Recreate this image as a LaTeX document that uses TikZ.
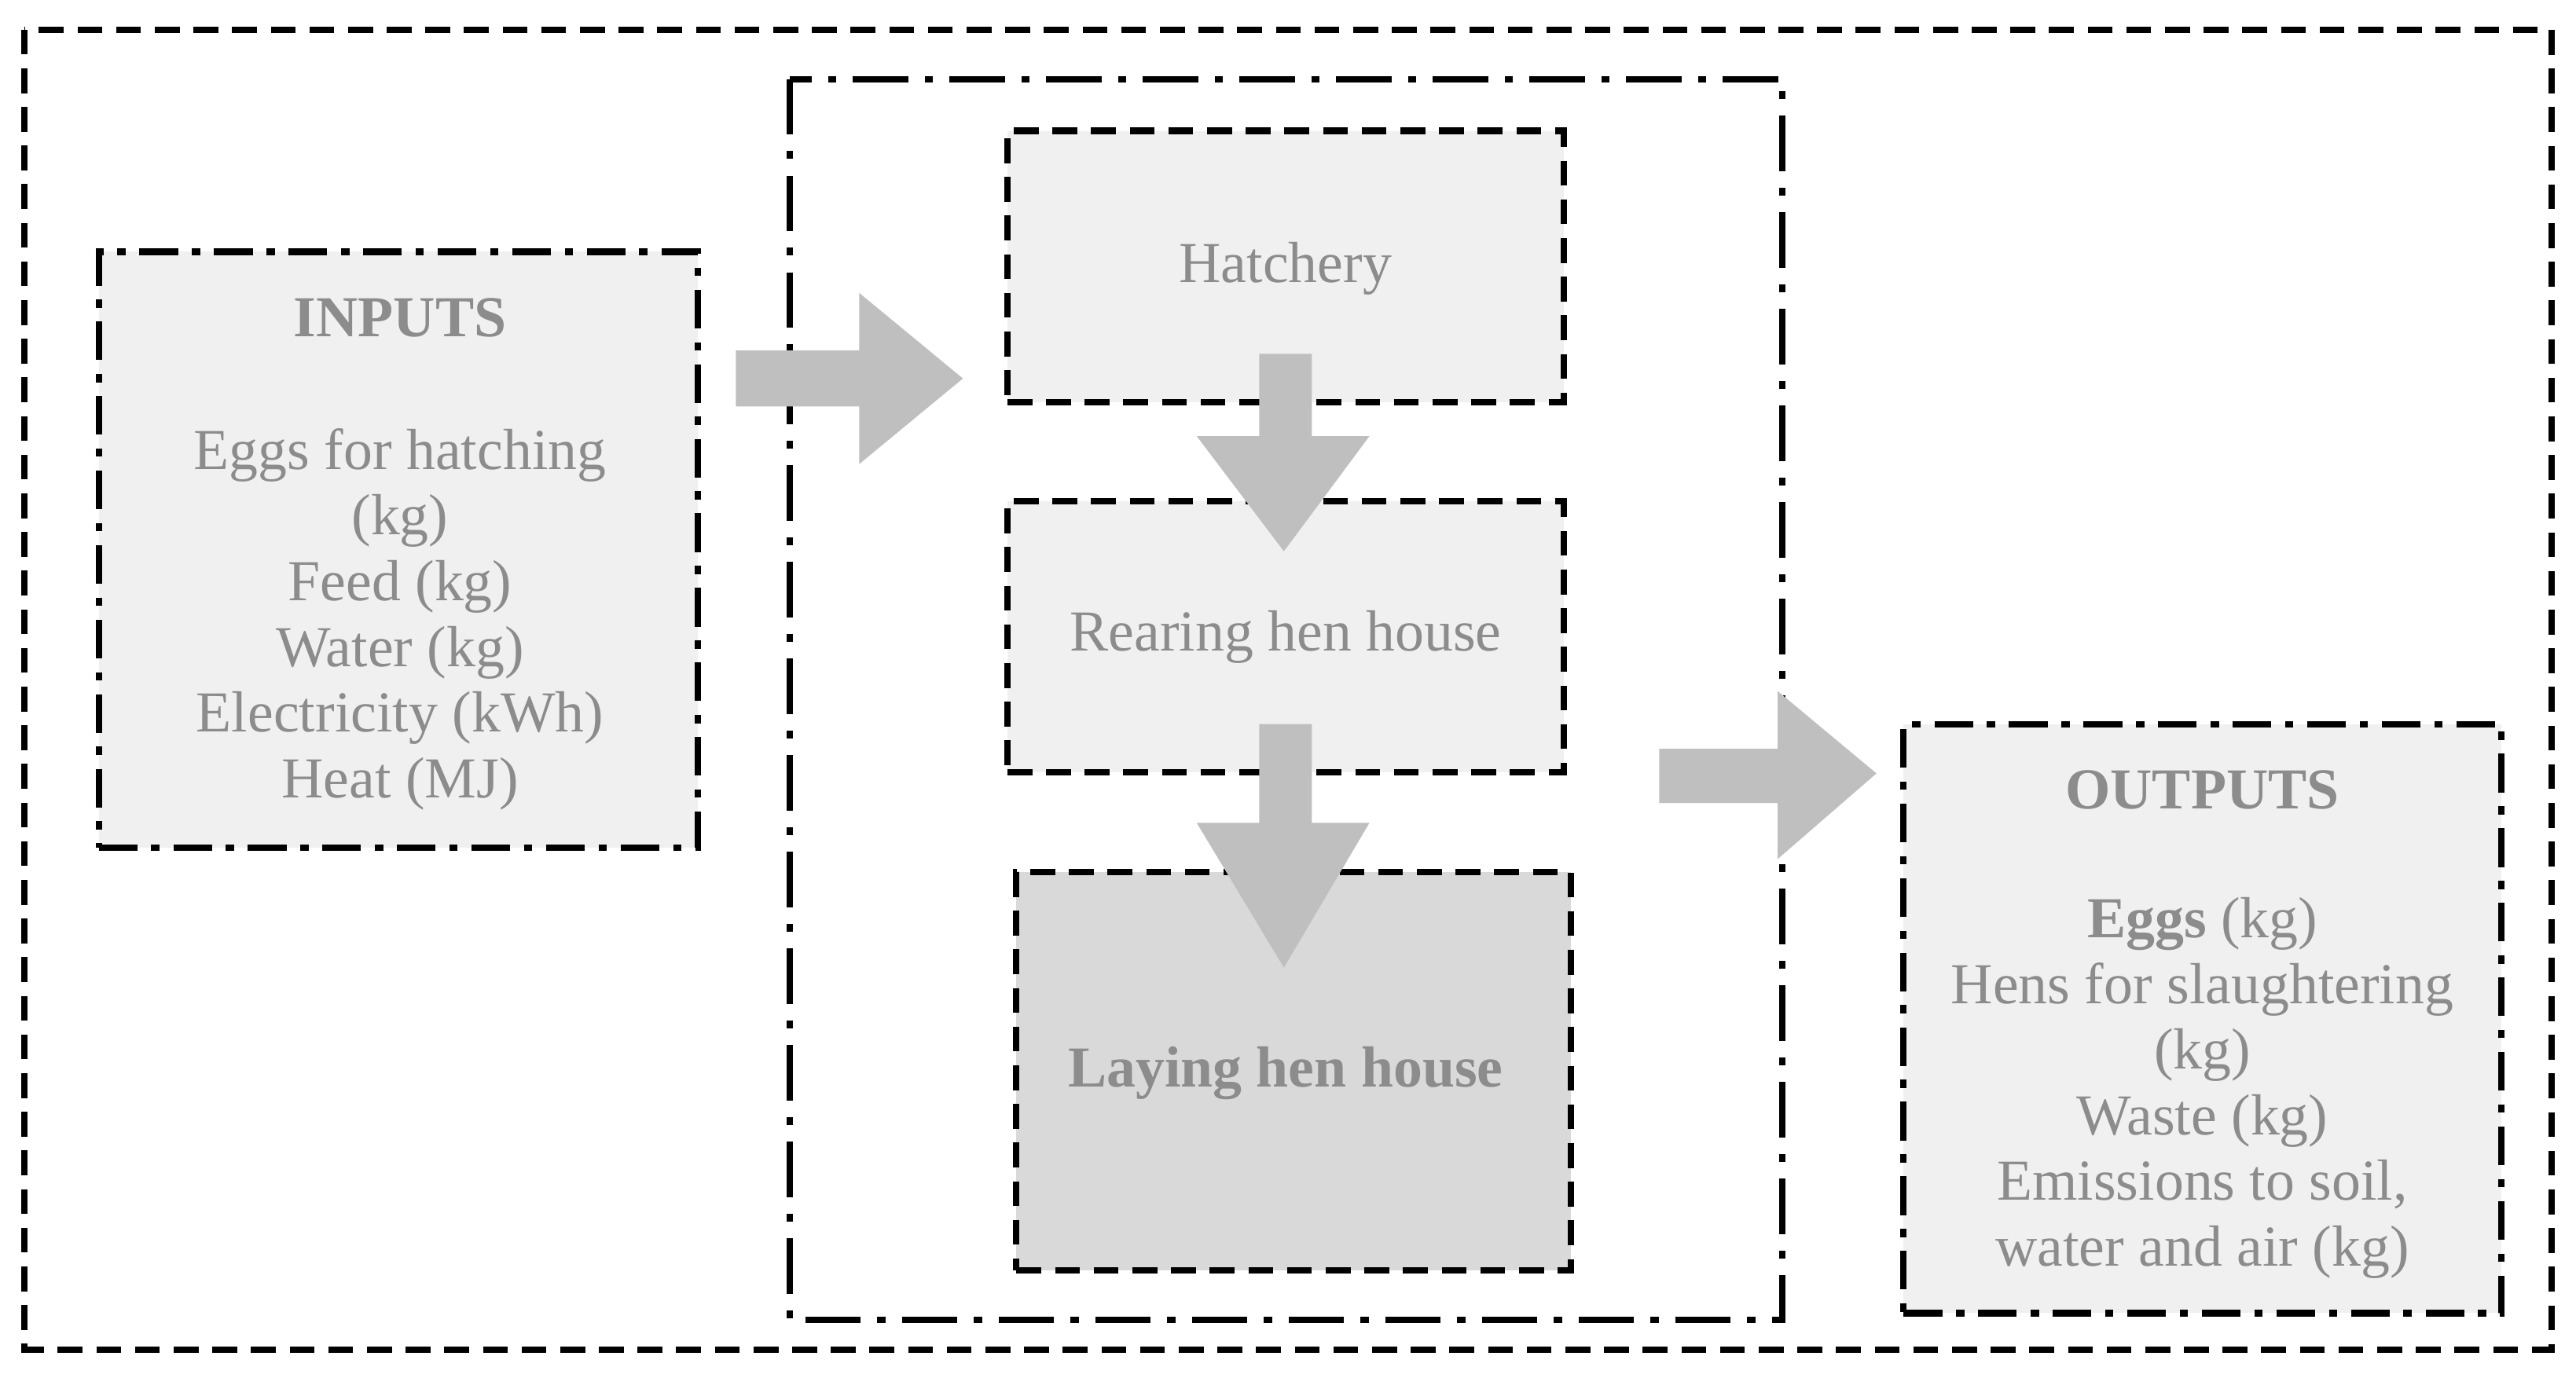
\documentclass[tikz,border=0pt]{standalone}
\usepackage{fontspec}
\setmainfont{Liberation Serif}
\usetikzlibrary{positioning}
\definecolor{gristexto}{RGB}{140, 140, 140}
\definecolor{grisclaro}{RGB}{240, 240, 240}
\definecolor{grisoscuro}{RGB}{217, 217, 217}
\definecolor{grisflecha}{RGB}{191, 191, 191}
\def\u{0.020946cm}
\tikzset{
    marco/.style={draw, black, line width=2.3pt, dash pattern=on 9pt off 5pt},
    etapa/.style={draw, black, line width=2.3pt, dash pattern=on 9pt off 5pt, fill=grisclaro, rectangle},
    caja/.style={draw, black, line width=2.3pt, dash pattern=on 14pt off 5pt on 3pt off 5pt, fill=grisclaro, rectangle},
    texto/.style={text=gristexto, font=\fontsize{21}{23.8}\selectfont, align=center, inner sep=0pt},
    flecha/.style={fill=grisflecha},
}
\begin{document}
\begin{tikzpicture}[x=\u, y=-\u]
    \useasboundingbox (0,0) rectangle (1565,837);
    \fill[white] (0,0) rectangle (1565,837);

    % marcos
    \draw[marco] (15,18) rectangle (1550,820);
    \draw[black, line width=2.3pt, dash pattern=on 20pt off 6pt on 3pt off 6pt] (480,48) rectangle (1083,802);

    % cajas
    \node[caja, minimum width=364*\u, minimum height=362*\u] (inp) at (242,334) {};
    \node[etapa, minimum width=338*\u, minimum height=165*\u] (hat) at (781,162) {};
    \node[etapa, minimum width=338*\u, minimum height=165*\u] (rea) at (781,387) {};
    \node[etapa, fill=grisoscuro, minimum width=337*\u, minimum height=242*\u] (lay) at (786,651) {};
    \node[caja, minimum width=363*\u, minimum height=358*\u] (out) at (1338,619) {};

    % flechas
    \fill[flecha] (447,213) -- (522,213) -- (522,178) -- (585,230) -- (522,282) -- (522,247) -- (447,247) -- cycle;
    \fill[flecha] (765,215) -- (765,265) -- (727,265) -- (780,335) -- (832,265) -- (797,265) -- (797,215) -- cycle;
    \fill[flecha] (765,440) -- (765,500) -- (727,500) -- (780,588) -- (832,500) -- (797,500) -- (797,440) -- cycle;
    \fill[flecha] (1008,455) -- (1080,455) -- (1080,420) -- (1140,470) -- (1080,522) -- (1080,488) -- (1008,488) -- cycle;

    % textos
    \node[texto, font=\fontsize{21}{23.8}\selectfont\bfseries] (inpT) at (243,193) {INPUTS};
    \node[texto, anchor=north] (inpL) at (243,260) {Eggs for hatching\\(kg)\\Feed (kg)\\Water (kg)\\Electricity (kWh)\\Heat (MJ)};
    \node[texto] (hatT) at (781,163) {Hatchery};
    \node[texto] (reaT) at (781,387) {Rearing hen house};
    \node[texto, font=\fontsize{21}{23.8}\selectfont\bfseries] (layT) at (781,652) {Laying hen house};
    \node[texto, font=\fontsize{21}{23.8}\selectfont\bfseries] (outT) at (1338,480) {OUTPUTS};
    \node[texto, anchor=north] (outL) at (1338,545) {\textbf{Eggs} (kg)\\Hens for slaughtering\\(kg)\\Waste (kg)\\Emissions to soil,\\water and air (kg)};
\end{tikzpicture}
\end{document}
